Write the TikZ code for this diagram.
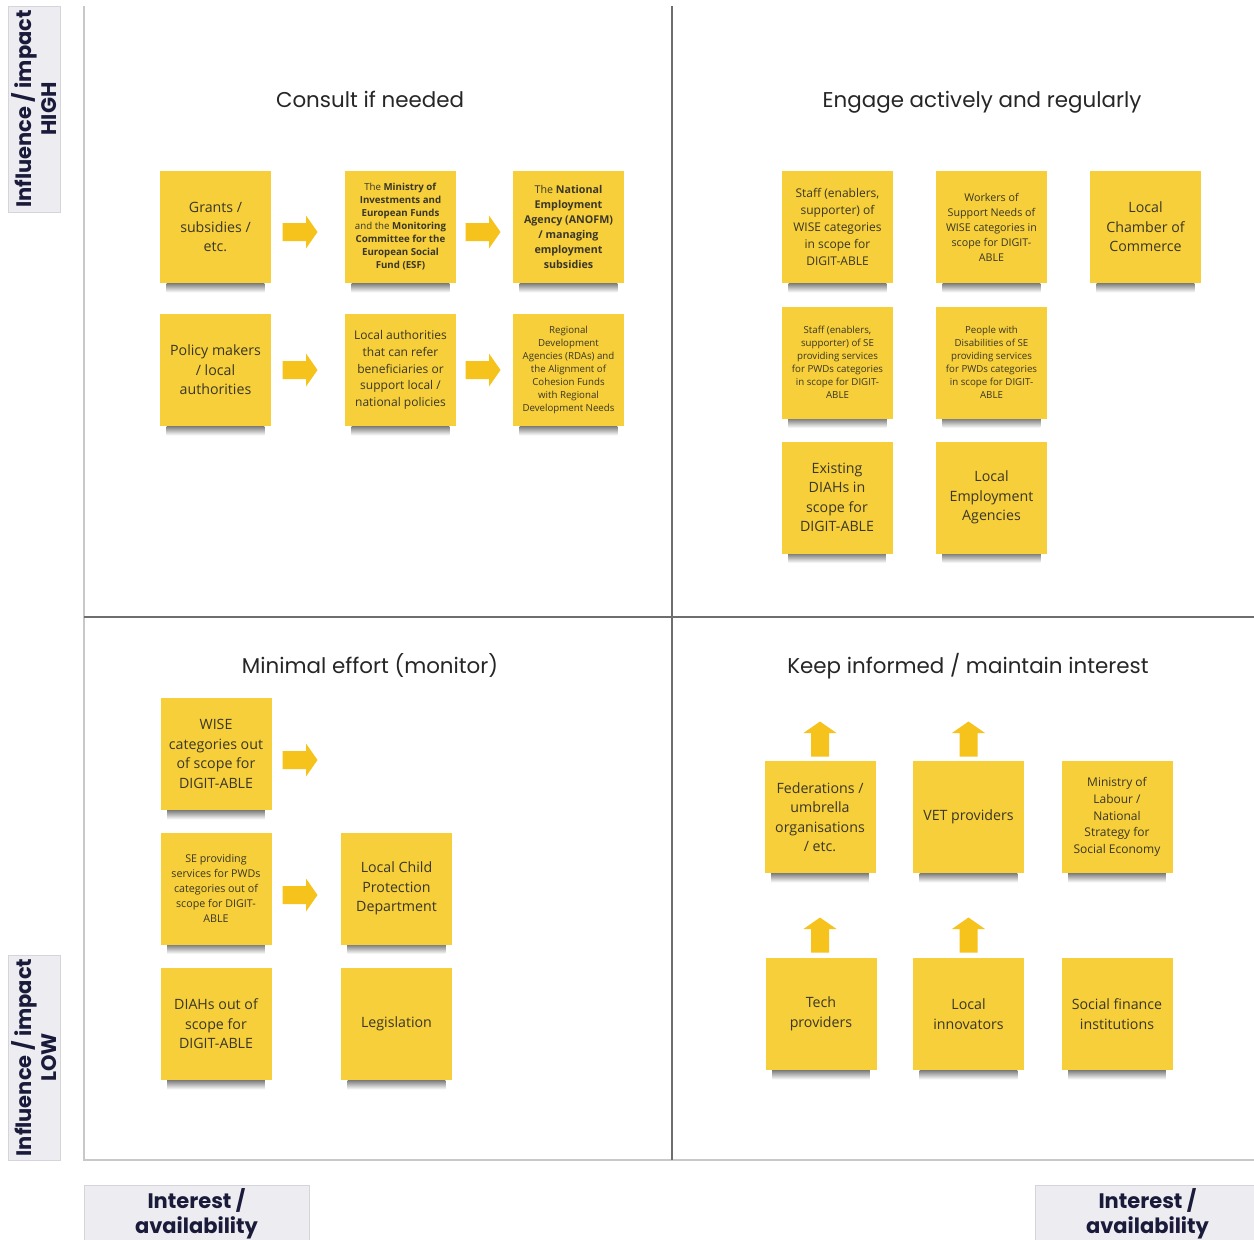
\documentclass[tikz,border=0pt]{standalone}
\usepackage{fontspec}
\setmainfont{Open Sans}
\newfontfamily\titlefont{Poppins}

\definecolor{notey}{RGB}{246,207,58}
\definecolor{arrowy}{RGB}{246,194,28}
\definecolor{notetext}{RGB}{58,54,40}
\definecolor{boxfill}{RGB}{236,236,241}
\definecolor{boxline}{RGB}{212,212,218}
\definecolor{axistext}{RGB}{26,26,58}
\definecolor{frameline}{RGB}{200,200,200}
\definecolor{midline}{RGB}{110,110,110}

\newcommand\notelg{\fontsize{7.1}{9.75}\selectfont}
\newcommand\notemd{\fontsize{6.0}{8.4}\selectfont}
\newcommand\notesm{\fontsize{5.35}{7.5}\selectfont}
\newcommand\notexs{\fontsize{4.85}{6.5}\selectfont}

\tikzset{
  note/.style={fill=notey, minimum width=55.5pt, minimum height=56pt, inner sep=1pt,
    align=center, text=notetext,
    append after command={\pgfextra{\shade[top color=black!50, bottom color=white]
      ([xshift=3.5pt]\tikzlastnode.south west) rectangle ([xshift=-3.5pt,yshift=-4.5pt]\tikzlastnode.south east);}}},
  title/.style={anchor=base, font=\titlefont\fontsize{10.7}{13}\selectfont, text=black!85},
  axisbox/.style={draw=boxline, fill=boxfill, text=axistext, align=center, inner sep=0pt,
    font=\titlefont\bfseries\fontsize{10.5}{12.5}\selectfont},
  rarrow/.pic={\fill[arrowy] (-17.5,-9) -- (6,-9) -- (6,-16.5) -- (17.5,0) -- (6,16.5) -- (6,9) -- (-17.5,9) -- cycle;}
}

\begin{document}
\begin{tikzpicture}[x=0.5pt,y=-0.5pt]
  \useasboundingbox (0,0) rectangle (1254,1239);
  \fill[white] (0,0) rectangle (1254,1239);

  % frame and quadrants
  \draw [frameline, line width=1pt] (84,6) -- (84,1160) -- (1254,1160);
  \draw [midline, line width=1pt] (672,6) -- (672,1160);
  \draw [midline, line width=1pt] (84,617) -- (1254,617);

  % axis labels
  \node [axisbox, rotate=90, minimum width=103pt, minimum height=26pt] (highlbl) at (34,109) {Influence / impact\\HIGH};
  \node [axisbox, rotate=90, minimum width=102.5pt, minimum height=26pt] (lowlbl) at (34,1057.5) {Influence / impact\\LOW};
  \node [axisbox, anchor=north, minimum width=112.5pt, inner ysep=1.5pt] (intleft) at (196.5,1185) {Interest /\\availability};
  \node [axisbox, anchor=north, minimum width=112.5pt, inner ysep=1.5pt] (intright) at (1147.5,1185) {Interest /\\availability};

  % quadrant titles
  \node [title] (consult) at (370,107) {Consult if needed};
  \node [title] (engage) at (982,107) {Engage actively and regularly};
  \node [title] (minimal) at (370,673) {Minimal effort (monitor)};
  \node [title] (keep) at (968,673) {Keep informed / maintain interest};

  % consult if needed
  \node [note, font=\notelg] (grants) at (215.5,227) {Grants /\\subsidies /\\etc.};
  \node [note, font=\notexs] (ministry) at (400.5,227) {The \textbf{Ministry of}\\\textbf{Investments and}\\\textbf{European Funds}\\and the \textbf{Monitoring}\\\textbf{Committee for the}\\\textbf{European Social}\\\textbf{Fund (ESF)}};
  \node [note, font=\notesm] (anofm) at (568.5,227) {The \textbf{National}\\\textbf{Employment}\\\textbf{Agency (ANOFM)}\\\textbf{/ managing}\\\textbf{employment}\\\textbf{subsidies}};
  \node [note, font=\notelg] (policy) at (215.5,370) {Policy makers\\/ local\\authorities};
  \node [note, font=\notemd] (localauth) at (400.5,370) {Local authorities\\that can refer\\beneficiaries or\\support local /\\national policies};
  \node [note, font=\notexs] (rda) at (568.5,370) {Regional\\Development\\Agencies (RDAs) and\\the Alignment of\\Cohesion Funds\\with Regional\\Development Needs};
  \pic (arrA) at (300,232) {rarrow};
  \pic (arrB) at (483,232) {rarrow};
  \pic (arrC) at (300,370) {rarrow};
  \pic (arrD) at (483,370) {rarrow};

  % engage actively and regularly
  \node [note, font=\notemd] (staffwise) at (837.5,227) {Staff (enablers,\\supporter) of\\WISE categories\\in scope for\\DIGIT-ABLE};
  \node [note, font=\notesm] (workers) at (991.5,227) {Workers of\\Support Needs of\\WISE categories in\\scope for DIGIT-\\ABLE};
  \node [note, font=\notelg] (chamber) at (1145.5,227) {Local\\Chamber of\\Commerce};
  \node [note, font=\notexs] (staffse) at (837.5,362.5) {Staff (enablers,\\supporter) of SE\\providing services\\for PWDs categories\\in scope for DIGIT-\\ABLE};
  \node [note, font=\notexs] (pwd) at (991.5,362.5) {People with\\Disabilities of SE\\providing services\\for PWDs categories\\in scope for DIGIT-\\ABLE};
  \node [note, font=\notelg] (diahsin) at (837,497.5) {Existing\\DIAHs in\\scope for\\DIGIT-ABLE};
  \node [note, font=\notelg] (employ) at (991.5,497.5) {Local\\Employment\\Agencies};

  % minimal effort
  \node [note, font=\notelg] (wiseout) at (216,754) {WISE\\categories out\\of scope for\\DIGIT-ABLE};
  \node [note, font=\notesm] (seout) at (216,888.5) {SE providing\\services for PWDs\\categories out of\\scope for DIGIT-\\ABLE};
  \node [note, font=\notelg] (diahsout) at (216,1024) {DIAHs out of\\scope for\\DIGIT-ABLE};
  \node [note, font=\notelg] (child) at (396.5,888.5) {Local Child\\Protection\\Department};
  \node [note, font=\notelg] (legis) at (396.5,1024) {Legislation};
  \pic (arrE) at (300,760) {rarrow};
  \pic (arrF) at (300,895) {rarrow};

  % keep informed
  \node [note, font=\notelg] (feder) at (820,817) {Federations /\\umbrella\\organisations\\/ etc.};
  \node [note, font=\notelg] (vet) at (968.5,817) {VET providers};
  \node [note, font=\notemd] (labour) at (1117,817) {Ministry of\\Labour /\\National\\Strategy for\\Social Economy};
  \node [note, font=\notelg] (tech) at (821,1014) {Tech\\providers};
  \node [note, font=\notelg] (innov) at (968.5,1014) {Local\\innovators};
  \node [note, font=\notelg] (finance) at (1117,1014) {Social finance\\institutions};
  \pic [rotate=90] (upA) at (820,739) {rarrow};
  \pic [rotate=90] (upB) at (968.5,739) {rarrow};
  \pic [rotate=90] (upC) at (820,935) {rarrow};
  \pic [rotate=90] (upD) at (968.5,935) {rarrow};
\end{tikzpicture}
\end{document}
